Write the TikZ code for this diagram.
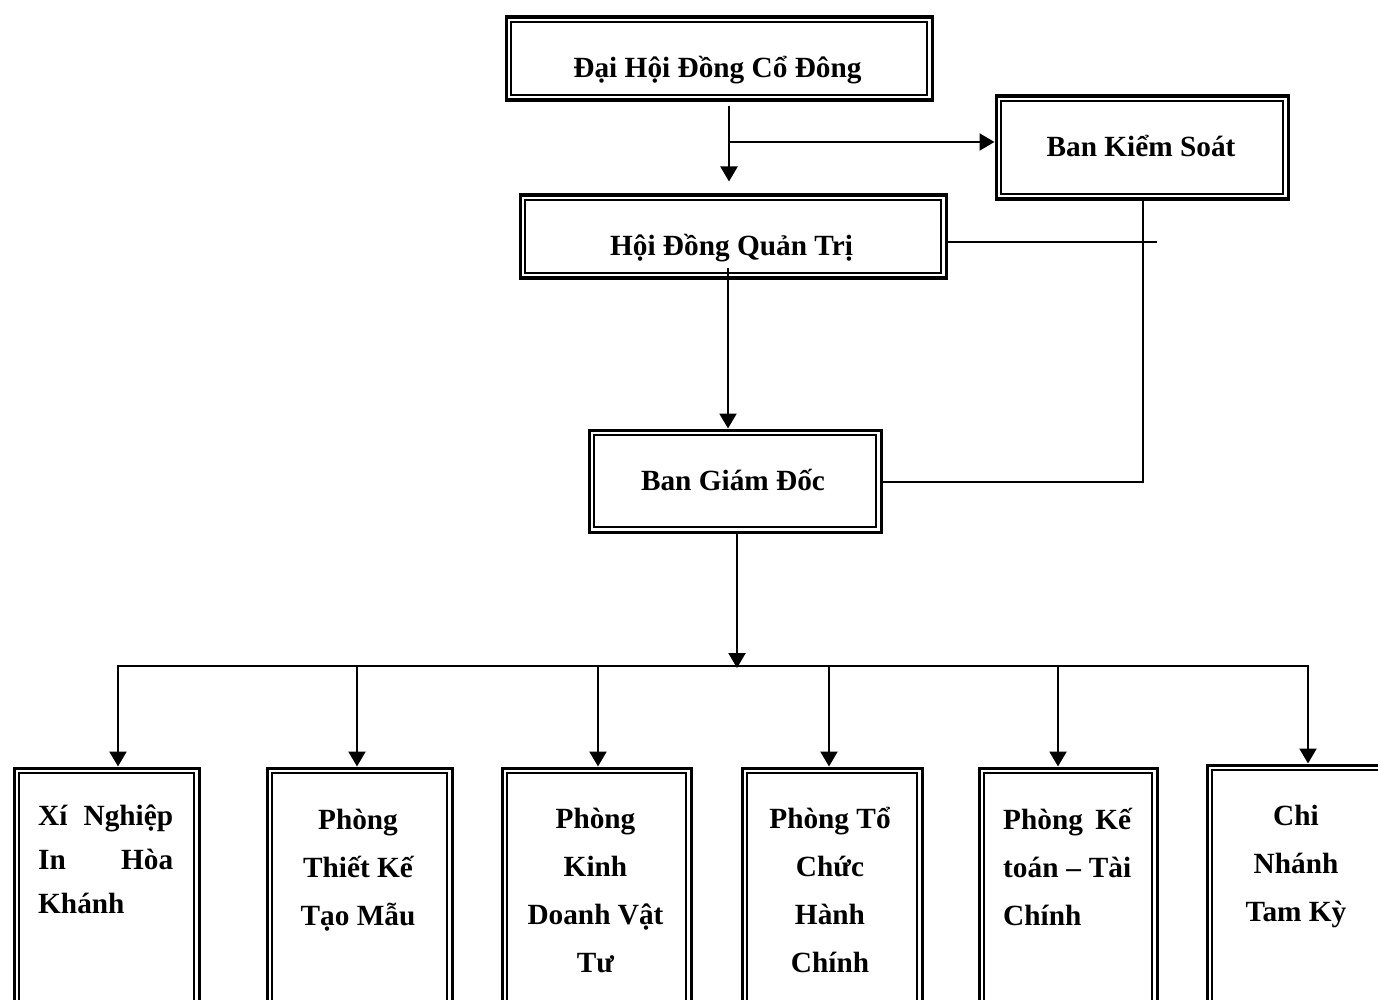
\documentclass[tikz,border=0pt]{standalone}
\usepackage{fontspec}
\setmainfont{Liberation Serif}
\usetikzlibrary{arrows.meta,calc}
\tikzset{
  box/.style  = {draw, line width=3.4pt, inner sep=0pt, anchor=north west,
                 path picture={\draw[line width=2pt]
                   ([shift={(5pt,-5pt)}]path picture bounding box.north west) rectangle
                   ([shift={(-5pt,5pt)}]path picture bounding box.south east);}},
  lbl/.style  = {font=\bfseries\fontsize{29.3}{48}\selectfont, inner sep=0pt,
                 anchor=base, align=center},
  lblj/.style = {lbl, anchor=base west, align=left},
  edg/.style  = {line width=2.2pt},
  arr/.style  = {edg, -{Triangle[length=15pt, width=17pt]}},
}
\begin{document}
\begin{tikzpicture}[x=1pt, y=-1pt]
  \path[use as bounding box, fill=white] (0,0) rectangle (1378,1000);
  \clip (0,0) rectangle (1378,1000);
  % upper boxes
  \node[box, minimum width=426pt, minimum height=83pt]  (dhcd) at (504.5,15.5) {};
  \node[box, minimum width=426pt, minimum height=83pt]  (hdqt) at (518.5,193.5) {};
  \node[box, minimum width=292pt, minimum height=103pt] (bks)  at (994.5,94.5) {};
  \node[box, minimum width=292pt, minimum height=102pt] (bgd)  at (587.5,428.5) {};
  \node[lbl] (dhcdt) at (717.5,78)  {Đại Hội Đồng Cổ Đông};
  \node[lbl] (hdqtt) at (731.5,256) {Hội Đồng Quản Trị};
  \node[lbl] (bkst)  at (1141,157)  {Ban Kiểm Soát};
  \node[lbl] (bgdt)  at (733,490)   {Ban Giám Đốc};
  % lower boxes
  \node[box, minimum width=185pt, minimum height=280pt]   (xn) at (12.5,766.5) {};
  \node[box, minimum width=185pt, minimum height=280pt]   (tk) at (265.5,766.5) {};
  \node[box, minimum width=189pt, minimum height=280pt]   (kd) at (500.5,766.5) {};
  \node[box, minimum width=180pt, minimum height=280pt]   (tc) at (740.5,766.5) {};
  \node[box, minimum width=178pt, minimum height=280pt]   (kt) at (977.5,766.5) {};
  \node[box, minimum width=200pt, minimum height=240.5pt] (cn) at (1205.5,763.5) {};
  \node[lblj, font=\bfseries\fontsize{29.3}{44}\selectfont] (xnt) at (38,913)
    {\makebox[135pt][s]{Xí Nghiệp}\\ \makebox[135pt][s]{In Hòa}\\ Khánh};
  \node[lbl] (tkt) at (358,925) {Phòng\\ Thiết Kế\\ Tạo Mẫu};
  \node[lbl] (kdt) at (595.5,972) {Phòng\\ Kinh\\ Doanh Vật\\ Tư};
  \node[lbl] (tct) at (830,972) {Phòng Tổ\\ Chức\\ Hành\\ Chính};
  \node[lblj] (ktt) at (1003,925)
    {\makebox[128pt][s]{Phòng Kế}\\ \makebox[128pt][s]{toán – Tài}\\ Chính};
  \node[lbl] (cnt) at (1296,921) {Chi\\ Nhánh\\ Tam Kỳ};
  % connectors
  \coordinate (j1) at (729,142);
  \draw[arr, shorten <=4pt, shorten >=12pt] (dhcd.south -| j1) -- (hdqt.north -| j1);
  \draw[arr] (j1) -- (j1 -| bks.west);
  \coordinate (k1) at (1157,242);
  \draw[edg] (k1 -| hdqt.east) -- (k1);
  \coordinate (k2) at (1143,482);
  \draw[edg] (bks.south -| k2) -- (k2) -- (k2 -| bgd.east);
  \coordinate (j2) at (728,268);
  \draw[arr] (j2) -- (j2 |- bgd.north);
  \coordinate (bus) at (737,666);
  \draw[arr] (bgd.south -| bus) -- ([yshift=-2pt]bus);
  \foreach \n/\x in {xn/118, tk/357, kd/598, tc/829, kt/1058, cn/1308}{%
    \coordinate (a\n) at (\x,666);
    \draw[arr] (a\n) -- (a\n |- \n.north);}
  \draw[edg, line cap=rect] (axn) -- (acn);
\end{tikzpicture}
\end{document}
